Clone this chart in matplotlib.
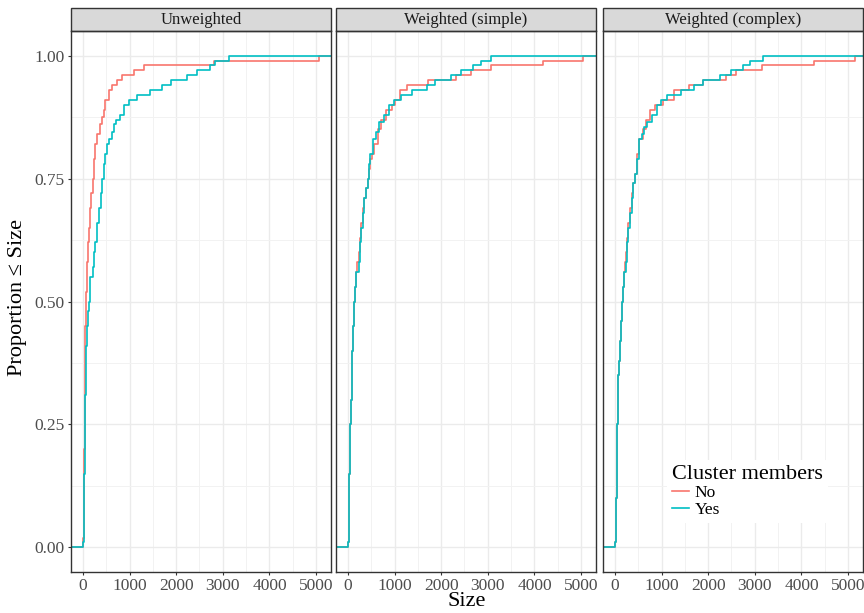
import numpy as np
import matplotlib
matplotlib.use('Agg')
import matplotlib.pyplot as plt
from matplotlib.patches import Rectangle
from matplotlib.lines import Line2D

plt.rcParams['font.family'] = ['Liberation Serif', 'DejaVu Serif']

# panel titles and legend labels
panels = ['Unweighted', 'Weighted (simple)', 'Weighted (complex)']
groups = ['No', 'Yes']
colors = ['#F8766D', '#00BFC4']

# ECDF steps (size, cumulative proportion)
unw_no_size = [10, 15, 22, 30, 37, 43, 48, 52, 54, 56, 71, 82, 92, 110, 128, 160, 184, 210,
               236, 270, 306, 360, 413, 450, 484, 557, 627, 734, 842, 1092, 1306, 2806, 5064]
unw_no_prop = [0.02, 0.10, 0.15, 0.20, 0.25, 0.30, 0.35, 0.40, 0.45, 0.50, 0.52, 0.55, 0.58,
               0.62, 0.65, 0.69, 0.72, 0.75, 0.79, 0.82, 0.84, 0.86, 0.875, 0.89, 0.91, 0.93,
               0.94, 0.95, 0.96, 0.97, 0.98, 0.99, 1.0]
unw_yes_size = [10, 21, 30, 37, 43, 50, 56, 75, 92, 115, 141, 163, 214, 240, 270, 305, 342,
                380, 413, 450, 484, 520, 557, 634, 664, 705, 805, 878, 985, 1163, 1448, 1702,
                1880, 2236, 2450, 2735, 2842, 3127]
unw_yes_prop = [0.01, 0.10, 0.15, 0.20, 0.25, 0.31, 0.37, 0.41, 0.45, 0.48, 0.50, 0.55, 0.57,
                0.60, 0.62, 0.66, 0.69, 0.72, 0.75, 0.78, 0.80, 0.82, 0.83, 0.845, 0.86, 0.87,
                0.88, 0.90, 0.91, 0.92, 0.93, 0.94, 0.95, 0.96, 0.97, 0.98, 0.99, 1.0]

simp_no_size = [5, 17, 30, 40, 50, 62, 78, 95, 115, 138, 155, 174, 200, 230, 255, 281, 315,
                351, 385, 421, 450, 479, 520, 564, 640, 706, 813, 953, 1014, 1120, 1262, 1723,
                2326, 2645, 3071, 4176, 5043]
simp_no_prop = [0.01, 0.10, 0.15, 0.20, 0.25, 0.30, 0.35, 0.40, 0.45, 0.50, 0.53, 0.56, 0.58,
                0.60, 0.63, 0.66, 0.69, 0.71, 0.73, 0.75, 0.77, 0.79, 0.80, 0.82, 0.85, 0.87,
                0.89, 0.90, 0.91, 0.93, 0.94, 0.95, 0.96, 0.97, 0.98, 0.99, 1.0]
simp_yes_size = [5, 17, 30, 40, 50, 62, 78, 95, 115, 138, 155, 174, 230, 255, 281, 315, 351,
                 385, 421, 450, 479, 549, 600, 670, 777, 883, 989, 1132, 1368, 1688, 1865,
                 2220, 2433, 2680, 2858, 3071]
simp_yes_prop = [0.01, 0.10, 0.15, 0.20, 0.25, 0.30, 0.35, 0.40, 0.45, 0.50, 0.53, 0.56, 0.58,
                 0.62, 0.65, 0.68, 0.71, 0.73, 0.75, 0.78, 0.80, 0.83, 0.845, 0.865, 0.88,
                 0.90, 0.91, 0.92, 0.93, 0.94, 0.95, 0.96, 0.97, 0.98, 0.99, 1.0]

comp_no_size = [5, 30, 40, 46, 52, 65, 76, 86, 110, 135, 159, 175, 194, 215, 240, 265, 288,
                320, 359, 395, 430, 480, 520, 600, 660, 750, 850, 1023, 1274, 1598, 1886,
                2390, 2606, 3146, 4266, 5143]
comp_no_prop = [0.01, 0.10, 0.15, 0.20, 0.25, 0.30, 0.35, 0.38, 0.42, 0.46, 0.50, 0.53, 0.56,
                0.58, 0.60, 0.63, 0.66, 0.69, 0.72, 0.74, 0.76, 0.80, 0.83, 0.85, 0.87, 0.89,
                0.90, 0.91, 0.93, 0.94, 0.95, 0.96, 0.97, 0.98, 0.99, 1.0]
comp_yes_size = [5, 30, 40, 46, 52, 65, 76, 86, 110, 135, 159, 175, 194, 230, 260, 288, 320,
                 359, 395, 430, 480, 516, 574, 624, 696, 803, 910, 982, 1125, 1419, 1706,
                 1887, 2246, 2499, 2751, 2895, 3183]
comp_yes_prop = [0.01, 0.10, 0.15, 0.20, 0.25, 0.30, 0.35, 0.38, 0.42, 0.46, 0.50, 0.53, 0.56,
                 0.58, 0.62, 0.65, 0.68, 0.71, 0.74, 0.76, 0.79, 0.83, 0.84, 0.855, 0.865,
                 0.88, 0.90, 0.91, 0.92, 0.93, 0.94, 0.95, 0.96, 0.97, 0.98, 0.99, 1.0]

series = [
    [(unw_no_size, unw_no_prop), (unw_yes_size, unw_yes_prop)],
    [(simp_no_size, simp_no_prop), (simp_yes_size, simp_yes_prop)],
    [(comp_no_size, comp_no_prop), (comp_yes_size, comp_yes_prop)],
]

xlim = (-255, 5320)
ylim = (-0.05, 1.05)

W, H = 864, 613
fig = plt.figure(figsize=(W / 100, H / 100), dpi=100)

lefts = [71, 336, 603]
pw = 260
top_px, bot_px = 31, 572

for i, name in enumerate(panels):
    ax = fig.add_axes([lefts[i] / W, 1 - bot_px / H, pw / W, (bot_px - top_px) / H])
    ax.set_xlim(*xlim)
    ax.set_ylim(*ylim)

    ax.set_xticks([0, 1000, 2000, 3000, 4000, 5000])
    ax.set_xticks(np.arange(500, 5500, 1000), minor=True)
    ax.set_yticks([0, 0.25, 0.5, 0.75, 1.0])
    ax.set_yticks([0.125, 0.375, 0.625, 0.875], minor=True)
    ax.grid(True, which='major', color='#EBEBEB', lw=1.0)
    ax.grid(True, which='minor', color='#F2F2F2', lw=0.7)
    ax.set_axisbelow(True)

    ax.tick_params(which='major', length=2.5, width=0.8, color='#333333',
                   labelsize=12.5, labelcolor='#4D4D4D', pad=2)
    ax.tick_params(which='minor', length=0)
    if i == 0:
        ax.set_yticklabels(['0.00', '0.25', '0.50', '0.75', '1.00'])
    else:
        ax.tick_params(axis='y', which='major', length=0, labelleft=False)

    for s in ax.spines.values():
        s.set_color('#333333')
        s.set_linewidth(1.0)

    for (sz, pr), c in zip(series[i], colors):
        x = [xlim[0]] + list(sz) + [xlim[1]]
        y = [0] + list(pr) + [pr[-1]]
        ax.step(x, y, where='post', color=c, lw=1.2)

    strip_h = 23 / (bot_px - top_px)
    ax.add_patch(Rectangle((0, 1), 1, strip_h, transform=ax.transAxes, clip_on=False,
                           fc='#D9D9D9', ec='#333333', lw=1.0))
    ax.text(0.5, 1 + strip_h / 2, name, transform=ax.transAxes, ha='center', va='center',
            fontsize=12, color='#1A1A1A')

fig.text(18 / W, 1 - 297 / H, 'Proportion \u2264 Size', rotation=90, ha='center',
         va='center', fontsize=16)
fig.text(467 / W, 1 - 602 / H, 'Size', ha='center', va='center', fontsize=16)

handles = [Line2D([], [], color=c, lw=1.2) for c in colors]
leg = fig.legend(handles, groups, title='Cluster members', loc='upper left',
                 bbox_to_anchor=(658 / W, 1 - 451 / H), fontsize=12.5, title_fontsize=16,
                 frameon=True, framealpha=1, edgecolor='none', handlelength=1.0,
                 handletextpad=0.3, labelspacing=0.05, borderpad=0.3)
leg._legend_box.align = 'left'

fig.savefig('out.png', dpi=100)
